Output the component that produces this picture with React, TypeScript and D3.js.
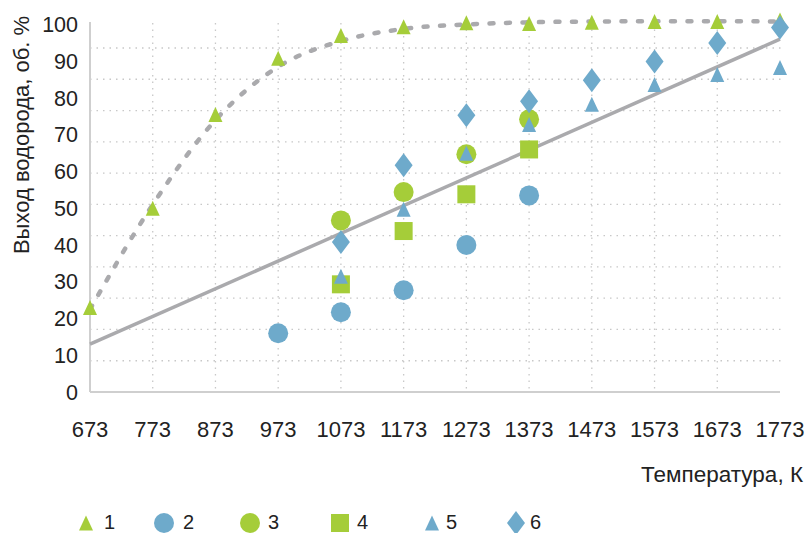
import { useEffect } from 'react';
import * as d3 from 'd3';

const temps = [673, 773, 873, 973, 1073, 1173, 1273, 1373, 1473, 1573, 1673, 1773];
const yTicks = [0, 10, 20, 30, 40, 50, 60, 70, 80, 90, 100];
const gridSteps = [10, 20, 30, 40, 50, 60, 70, 80, 90, 100, 110];

// series 1: green triangles, all temperatures
const s1 = [23, 50, 75.5, 90.8, 97, 99.4, 100.5, 100.3, 100.6, 100.8, 100.8, 101.2];
// dashed fit through series 1
const fit1 = [22.5, 51, 74, 88.5, 95.5, 98.8, 100, 100.6, 100.8, 100.9, 100.9, 100.8];
// solid linear trend
const trendT = [673, 1773];
const trendV = [13, 96];

const s2T = [973, 1073, 1173, 1273, 1373];
const s2 = [16, 21.7, 27.7, 40, 53.5];
const s3T = [1073, 1173, 1273, 1373];
const s3 = [46.7, 54.4, 64.7, 74.2];
const s4T = [1073, 1173, 1273, 1373];
const s4 = [29.3, 43.8, 53.8, 66];
const s5T = [1073, 1173, 1273, 1373, 1473, 1573, 1673, 1773];
const s5 = [31.5, 49.7, 65, 72.8, 78.3, 83.7, 86.4, 88.3];
const s6T = [1073, 1173, 1273, 1373, 1473, 1573, 1673, 1773];
const s6 = [40.8, 61.7, 75.3, 79.1, 84.8, 89.9, 95, 99.2];

const legendLabels = ['1', '2', '3', '4', '5', '6'];

const GREEN = '#a5cd39';
const BLUE = '#6eaacb';
const GRAY = '#aaaaad';
const FONT = '"Liberation Sans", Arial, sans-serif';

const width = 805;
const height = 533;

const x = d3.scaleLinear().domain([673, 1773]).range([90, 780]);
const y = d3.scaleLinear().domain([0, 100]).range([392, 24.5]);
// the gridlines in the original do not line up with the labels
const yGrid = d3.scaleLinear().domain([0, 110]).range([392, 48]);

type Shape = 'tri' | 'circle' | 'square' | 'diamond';

function Marker({ cx, cy, shape, color }: { cx: number; cy: number; shape: Shape; color: string }) {
  if (shape === 'circle') return <circle cx={cx} cy={cy} r={10} fill={color} />;
  if (shape === 'square') return <rect x={cx - 9} y={cy - 9} width={18} height={18} fill={color} />;
  if (shape === 'tri') {
    const w = 7, h = 7.5;
    return <path d={`M${cx},${cy - h}L${cx + w},${cy + h}L${cx - w},${cy + h}Z`} fill={color} />;
  }
  const w = 9, h = 12;
  return <path d={`M${cx},${cy - h}L${cx + w},${cy}L${cx},${cy + h}L${cx - w},${cy}Z`} fill={color} />;
}

export default function App() {
  useEffect(() => {
    document.body.style.margin = '0';
  }, []);

  const fitLine = d3
    .line<number>()
    .x((_, i) => x(temps[i]))
    .y((d) => y(d))
    .curve(d3.curveMonotoneX)(fit1) as string;

  const trendLine = d3
    .line<number>()
    .x((_, i) => x(trendT[i]))
    .y((d) => y(d))(trendV) as string;

  const series: { t: number[]; v: number[]; shape: Shape; color: string }[] = [
    { t: temps, v: s1, shape: 'tri', color: GREEN },
    { t: s2T, v: s2, shape: 'circle', color: BLUE },
    { t: s3T, v: s3, shape: 'circle', color: GREEN },
    { t: s4T, v: s4, shape: 'square', color: GREEN },
    { t: s5T, v: s5, shape: 'tri', color: BLUE },
    { t: s6T, v: s6, shape: 'diamond', color: BLUE },
  ];

  const legendX = [86, 164, 250, 340, 432, 516];
  const legendTextX = [104, 183, 268, 357, 446, 530];

  return (
    <svg width={width} height={height} style={{ display: 'block', fontFamily: FONT }}>
      <rect width={width} height={height} fill="#fff" />

      {/* grid */}
      {gridSteps.map((g) => (
        <line key={'h' + g} x1={x(673)} x2={783} y1={yGrid(g)} y2={yGrid(g)}
          stroke="#c8c8c8" strokeWidth={1.3} strokeDasharray="1.5,5" />
      ))}
      {temps.slice(1, -1).map((t) => (
        <line key={'v' + t} x1={x(t)} x2={x(t)} y1={23} y2={392}
          stroke="#c8c8c8" strokeWidth={1.3} strokeDasharray="1.5,5" />
      ))}

      {/* axes */}
      <line x1={x(673)} x2={x(673)} y1={22} y2={392} stroke="#cfcfcf" strokeWidth={2} />
      <line x1={x(673)} x2={780} y1={392} y2={392} stroke="#cfcfcf" strokeWidth={2} />

      {yTicks.map((v) => (
        <text key={'yt' + v} x={78} y={y(v)} dy="0.36em" textAnchor="end" fontSize={21.5} fill="#222">
          {v}
        </text>
      ))}
      {temps.map((t) => (
        <text key={'xt' + t} x={x(t)} y={437} textAnchor="middle" fontSize={22} fill="#222">
          {t}
        </text>
      ))}

      <text transform={`translate(29,${135}) rotate(-90)`} textAnchor="middle" fontSize={22} fill="#222">
        Выход водорода, об. %
      </text>
      <text x={803} y={482} textAnchor="end" fontSize={22.5} fill="#222">
        Температура, К
      </text>

      {/* lines */}
      <path d={trendLine} fill="none" stroke={GRAY} strokeWidth={3.5} />
      <path d={fitLine} fill="none" stroke={GRAY} strokeWidth={4.5} strokeDasharray="4,12.5" strokeLinecap="round" />

      {/* markers */}
      {series.map((s, si) =>
        s.v.map((v, i) => (
          <Marker key={si + '-' + i} cx={x(s.t[i])} cy={y(v)} shape={s.shape} color={s.color} />
        ))
      )}

      {/* legend */}
      {series.map((s, i) => (
        <g key={'lg' + i}>
          <Marker cx={legendX[i]} cy={523} shape={s.shape} color={s.color} />
          <text x={legendTextX[i]} y={529} fontSize={20} fill="#222">
            {legendLabels[i]}
          </text>
        </g>
      ))}
    </svg>
  );
}
